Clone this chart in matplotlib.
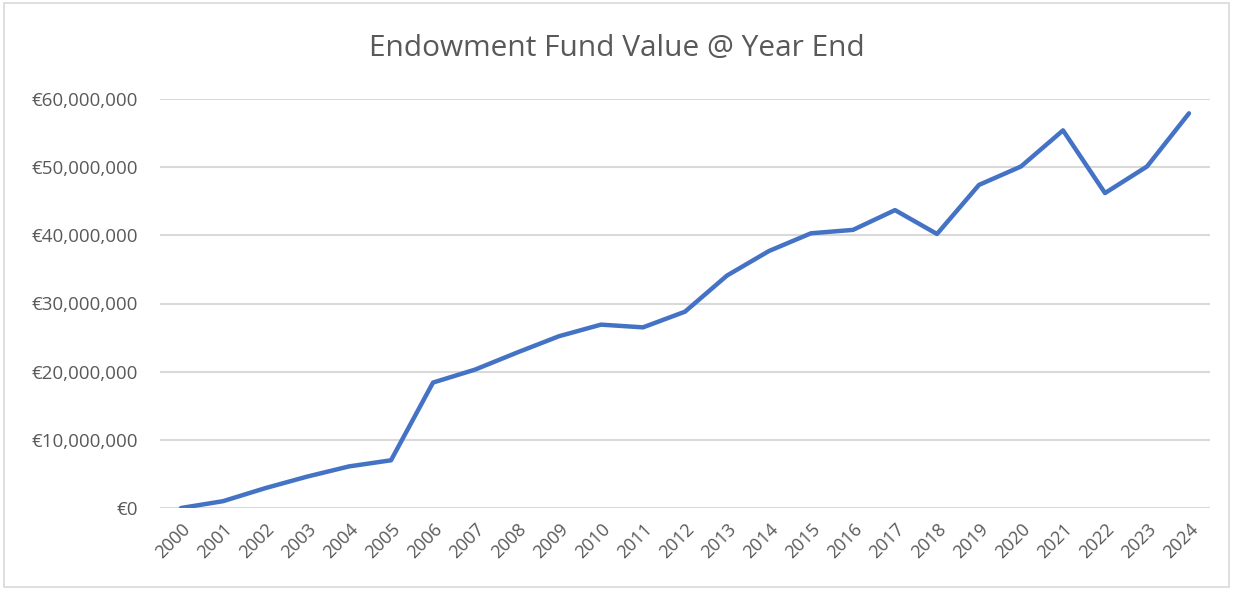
import matplotlib
matplotlib.use("Agg")
import matplotlib.pyplot as plt
from matplotlib.patches import Rectangle
from matplotlib.ticker import FuncFormatter, MultipleLocator

years = [str(y) for y in range(2000, 2025)]
values = [0.0, 1.0, 2.9, 4.6, 6.1, 7.0, 18.4, 20.3, 22.8, 25.2, 26.9, 26.5, 28.8,
          34.1, 37.7, 40.3, 40.8, 43.7, 40.2, 47.4, 50.1, 55.4, 46.2, 50.1, 57.9]
values = [v * 1e6 for v in values]

plt.rcParams['font.family'] = ['Open Sans', 'DejaVu Sans']
grey = '#595959'

fig = plt.figure(figsize=(12.33, 5.9), dpi=100)
ax = fig.add_axes([160/1233, 1 - 508/590, 1050/1233, 409/590])

x = list(range(len(years)))
ax.plot(x, values, color='#4472C4', linewidth=3.2, solid_capstyle='round', solid_joinstyle='round', zorder=3)

ax.set_xlim(-0.5, len(years) - 0.5)
ax.set_ylim(0, 60e6)
ax.yaxis.set_major_locator(MultipleLocator(10e6))
ax.yaxis.set_major_formatter(FuncFormatter(lambda v, p: '€{:,.0f}'.format(v)))
ax.set_xticks(x)
ax.set_xticklabels(years, rotation=45, ha='right', va='top', rotation_mode='anchor')
ax.tick_params(axis='both', length=0, colors=grey)
ax.tick_params(axis='y', pad=16, labelsize=13.5)
ax.tick_params(axis='x', pad=9, labelsize=13)
ax.grid(axis='y', color='#D9D9D9', linewidth=1.5)
ax.set_axisbelow(True)
for s in ax.spines.values():
    s.set_visible(False)

fig.text(0.5, 1 - 48/590, 'Endowment Fund Value @ Year End', ha='center', va='center',
         fontsize=21.5, color=grey)

fig.patches.append(Rectangle((4/1233, 3/590), 1 - 8/1233, 1 - 6/590, transform=fig.transFigure,
                             fill=False, edgecolor='#D9D9D9', linewidth=1.2))

fig.savefig('out.png', dpi=100)
